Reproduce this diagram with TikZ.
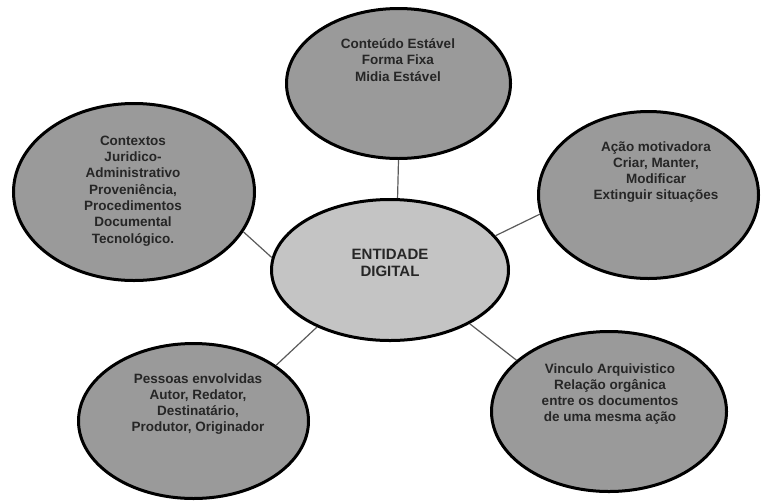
\documentclass[tikz,border=0pt]{standalone}
\usepackage{fontspec}
\setmainfont{Liberation Sans}
\usepackage{tikz}
\usetikzlibrary{shapes.geometric}
\definecolor{BubbleGray}{HTML}{9A9A9A}
\definecolor{CoreGray}{HTML}{C4C4C4}
\definecolor{InkGray}{HTML}{262626}
\definecolor{LinkGray}{HTML}{5A5A5A}

\begin{document}
\begin{tikzpicture}[
      x=1pt, y=-1pt,
      every node/.style={align=center},
      bubble/.style={draw, ellipse, line width=3pt, fill=BubbleGray, inner sep=0pt},
      core/.style={bubble, fill=CoreGray},
      txt/.style={text=InkGray, inner sep=0pt, font=\fontsize{13.5}{16.3}\selectfont\bfseries},
      coretxt/.style={txt, font=\fontsize{15}{17.5}\selectfont\bfseries},
      link/.style={LinkGray, line width=1.2pt}
    ]
      \useasboundingbox (0,0) rectangle (762,501);

      \node[core, minimum width=237pt, minimum height=141pt] (entidade) at (390,270) {};
      \node[bubble, minimum width=224pt, minimum height=150pt] (conteudo) at (398.5,83.5) {};
      \node[bubble, minimum width=241pt, minimum height=177pt] (contextos) at (134,192) {};
      \node[bubble, minimum width=220pt, minimum height=167pt] (acao) at (648.5,195) {};
      \node[bubble, minimum width=230pt, minimum height=155pt] (pessoas) at (193.5,421) {};
      \node[bubble, minimum width=235pt, minimum height=160pt] (vinculo) at (609,411.5) {};

      % Texts
      \node[coretxt] (entidade-txt) at (390,263) {ENTIDADE\\DIGITAL};
      \node[txt] (conteudo-txt) at (398,60) {Conteúdo Estável\\Forma Fixa\\Midia Estável};
      \node[txt] (contextos-txt) at (133,191) {Contextos\\Juridico-\\Administrativo\\Proveniência,\\Procedimentos\\Documental\\Tecnológico.};
      \node[txt] (acao-txt) at (656,172) {Ação motivadora\\Criar, Manter,\\Modificar\\Extinguir situações};
      \node[txt] (pessoas-txt) at (198,404) {Pessoas envolvidas\\Autor, Redator,\\Destinatário,\\Produtor, Originador};
      \node[txt] (vinculo-txt) at (610,394) {Vinculo Arquivistico\\Relação orgânica\\entre os documentos\\de uma mesma ação};

      \draw[link] (conteudo.south) -- (entidade.84);
      \draw[link] (contextos.-20) -- (entidade.174);
      \draw[link] (entidade.18) -- (acao.190);
      \draw[link] (entidade.218) -- (pessoas.34);
      \draw[link] (entidade.-34) -- (vinculo.151);

    \end{tikzpicture}
\end{document}
